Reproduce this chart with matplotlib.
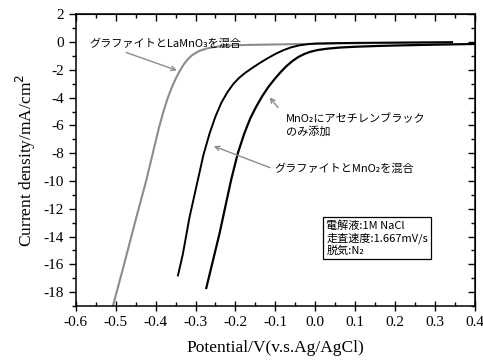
import matplotlib
matplotlib.use('Agg')
import matplotlib.pyplot as plt
from matplotlib.ticker import MultipleLocator, NullFormatter

plt.rcParams['axes.unicode_minus'] = False

# graphite + LaMnO3 (gray)
v_la = [-0.507, -0.48, -0.45, -0.423, -0.405, -0.392, -0.38, -0.37, -0.36, -0.35,
        -0.34, -0.33, -0.32, -0.31, -0.30, -0.29, -0.275, -0.26, -0.24, -0.22,
        -0.2, -0.15, -0.09, 0.0, 0.1, 0.2, 0.285, 0.343]
j_la = [-19.0, -16.1, -12.8, -9.9, -7.75, -6.2, -4.95, -4.05, -3.3, -2.65,
        -2.1, -1.62, -1.25, -0.97, -0.78, -0.63, -0.48, -0.38, -0.3, -0.25,
        -0.22, -0.19, -0.16, -0.12, -0.08, -0.05, -0.03, -0.02]

# graphite + MnO2 (black, middle)
v_gm = [-0.344, -0.332, -0.315, -0.294, -0.28, -0.265, -0.25, -0.235, -0.22, -0.205,
        -0.19, -0.175, -0.16, -0.14, -0.12, -0.10, -0.08, -0.06, -0.04, -0.02,
        0.0, 0.05, 0.1, 0.2, 0.3, 0.343]
j_gm = [-16.8, -15.3, -12.6, -9.9, -8.1, -6.6, -5.35, -4.35, -3.6, -3.0,
        -2.55, -2.2, -1.9, -1.52, -1.17, -0.85, -0.58, -0.37, -0.23, -0.15,
        -0.1, -0.07, -0.05, -0.03, -0.01, 0.0]

# MnO2 + acetylene black only (black, right)
v_ab = [-0.273, -0.24, -0.211, -0.194, -0.178, -0.163, -0.148, -0.133, -0.118, -0.103,
        -0.088, -0.073, -0.058, -0.043, -0.028, -0.013, 0.005, 0.03, 0.06, 0.1,
        0.15, 0.2, 0.3, 0.4]
j_ab = [-17.7, -13.8, -9.95, -8.0, -6.6, -5.5, -4.65, -3.9, -3.25, -2.7,
        -2.2, -1.75, -1.38, -1.08, -0.86, -0.7, -0.57, -0.47, -0.39, -0.33,
        -0.28, -0.24, -0.18, -0.13]

jp = ['Noto Sans CJK JP', 'DejaVu Sans']
serif = 'Liberation Serif'

fig = plt.figure(figsize=(4.83, 3.6), dpi=100)
ax = fig.add_axes([0.157, 0.15, 0.826, 0.81])

ax.plot(v_la, j_la, color='#8c8c8c', lw=1.5)
ax.plot(v_gm, j_gm, color='black', lw=1.4)
ax.plot(v_ab, j_ab, color='black', lw=1.6)

ax.set_xlim(-0.6, 0.4)
ax.set_ylim(-19, 2)
ax.xaxis.set_minor_locator(MultipleLocator(0.05))
ax.yaxis.set_major_locator(MultipleLocator(2))
ax.yaxis.set_minor_locator(MultipleLocator(1))
xt = [round(-0.6 + 0.1 * i, 1) for i in range(11)]
ax.set_xticks(xt)
ax.set_xticklabels(['%.1f' % t for t in xt])
ax.tick_params(axis='y', which='major', direction='out', length=5, width=1, labelsize=11)
ax.tick_params(axis='y', which='minor', direction='out', length=3, width=1)
ax.tick_params(axis='x', which='major', direction='inout', length=7, width=1, labelsize=11)
ax.tick_params(axis='x', which='minor', direction='in', length=3, width=1)
for lab in ax.get_xticklabels() + ax.get_yticklabels():
    lab.set_fontfamily(serif)
for sp in ax.spines.values():
    sp.set_linewidth(1.1)

secx = ax.secondary_xaxis('top')
secx.xaxis.set_major_locator(MultipleLocator(0.1))
secx.xaxis.set_minor_locator(MultipleLocator(0.05))
secx.tick_params(which='major', direction='in', length=5, width=1, labeltop=False)
secx.tick_params(which='minor', direction='in', length=3, width=1)
secx.xaxis.set_major_formatter(NullFormatter())
secy = ax.secondary_yaxis('right')
secy.yaxis.set_major_locator(MultipleLocator(2))
secy.yaxis.set_minor_locator(MultipleLocator(1))
secy.tick_params(which='major', direction='in', length=5, width=1, labelright=False)
secy.tick_params(which='minor', direction='in', length=3, width=1)
secy.yaxis.set_major_formatter(NullFormatter())

ax.set_xlabel('Potential/V(v.s.Ag/AgCl)', fontfamily=serif, fontsize=12.5, labelpad=8)
ax.set_ylabel('Current density/mA/cm$^2$', fontfamily=serif, fontsize=12.5, labelpad=4)

ax.annotate('グラファイトとLaMnO₃を混合', xy=(-0.34, -2.1), xytext=(-0.565, -0.1),
            family=jp, fontsize=8, va='center', ha='left',
            arrowprops=dict(arrowstyle='->', color='#8c8c8c', lw=1.0,
                            relpos=(0.17, 0.0)))
ax.annotate('MnO₂にアセチレンブラック\nのみ添加', xy=(-0.119, -3.82), xytext=(-0.073, -6.0),
            family=jp, fontsize=8, va='center', ha='left', linespacing=1.25,
            arrowprops=dict(arrowstyle='->', color='#8c8c8c', lw=1.0,
                            relpos=(0.0, 0.85), shrinkA=6))
ax.annotate('グラファイトとMnO₂を混合', xy=(-0.261, -7.42), xytext=(-0.103, -9.15),
            family=jp, fontsize=8, va='center', ha='left',
            arrowprops=dict(arrowstyle='->', color='#8c8c8c', lw=1.0,
                            relpos=(0.0, 0.5), shrinkA=1))

ax.text(0.028, -14.1, '電解液:1M NaCl\n走査速度:1.667mV/s\n脱気:N₂', family=jp,
        fontsize=8, va='center', ha='left', linespacing=1.2,
        bbox=dict(boxstyle='square,pad=0.3', fc='white', ec='black', lw=0.9))

fig.savefig('out.png', dpi=100)
